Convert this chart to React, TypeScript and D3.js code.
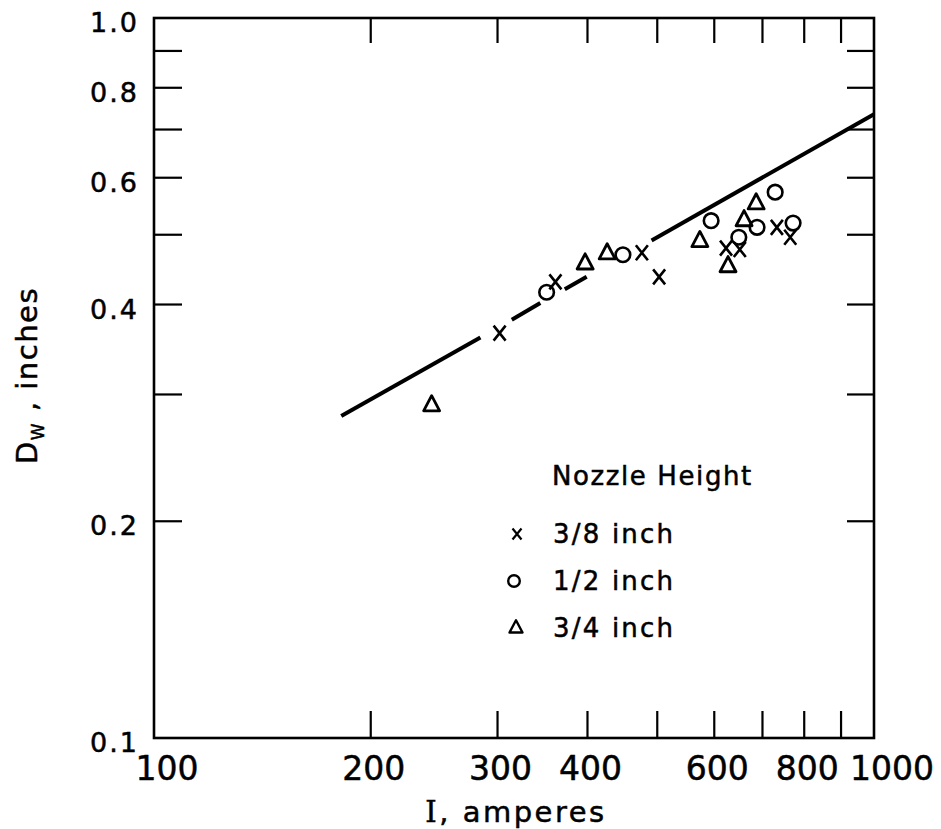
import React from "react";
import * as d3 from "d3";

// ---- data ----
const xTickValues = [200, 300, 400, 500, 600, 700, 800, 900];
const xLabelValues = [100, 200, 300, 400, 600, 800, 1000];
const yTickValues = [0.2, 0.3, 0.4, 0.5, 0.6, 0.7, 0.8, 0.9];
const yLabelValues = [0.1, 0.2, 0.4, 0.6, 0.8, 1.0];

// Nozzle height 3/8 inch (x)
const series38: [number, number][] = [
  [302, 0.365], [361, 0.43], [476, 0.472], [503, 0.437],
  [623, 0.479], [651, 0.477], [733, 0.512], [765, 0.496],
];
// Nozzle height 1/2 inch (o)
const series12: [number, number][] = [
  [351, 0.416], [448, 0.469], [594, 0.523], [649, 0.496],
  [688, 0.512], [729, 0.573], [772, 0.519],
];
// Nozzle height 3/4 inch (triangle)
const series34: [number, number][] = [
  [243, 0.291], [397, 0.458], [426, 0.473], [573, 0.492],
  [627, 0.454], [660, 0.526], [686, 0.555],
];

// fitted line, drawn broken where the markers sit
const lineSegments: [number, number][][] = [
  [[182, 0.28], [284, 0.36]],
  [[314, 0.381], [344, 0.402]],
  [[372, 0.42], [399, 0.437]],
  [[491, 0.491], [1000, 0.735]],
];

const legendTitle = "Nozzle Height";
const legendItems = [
  { kind: "x", label: "3/8 inch" },
  { kind: "o", label: "1/2 inch" },
  { kind: "t", label: "3/4 inch" },
];

const W = 941;
const H = 829;
const L = 154, R = 874, T = 18, B = 738;
const FONT = "'DejaVu Sans', sans-serif";

const x = d3.scaleLog().domain([100, 1000]).range([L, R]);
const y = d3.scaleLog().domain([0.1, 1.0]).range([B, T]);

function Cross({ cx, cy, w = 6, h = 7.5, sw = 2.6 }: any) {
  return (
    <path
      d={`M${cx - w},${cy - h}L${cx + w},${cy + h}M${cx + w},${cy - h}L${cx - w},${cy + h}`}
      stroke="#000" strokeWidth={sw} fill="none"
    />
  );
}
function Circ({ cx, cy, r = 7.3, sw = 2.6 }: any) {
  return <circle cx={cx} cy={cy} r={r} stroke="#000" strokeWidth={sw} fill="none" />;
}
function Tri({ cx, cy, s = 8, sw = 2.8 }: any) {
  const hgt = s * 1.9;
  return (
    <path
      d={`M${cx},${cy - hgt * 0.55}L${cx + s},${cy + hgt * 0.45}L${cx - s},${cy + hgt * 0.45}Z`}
      stroke="#000" strokeWidth={sw} fill="none" strokeLinejoin="round"
    />
  );
}

export default function App() {
  const line = d3
    .line<[number, number]>()
    .x((d) => x(d[0]))
    .y((d) => y(d[1]));

  const fmtY = (v: number) => v.toFixed(1);
  const textStroke = { stroke: "#000", strokeWidth: 0.5 };

  return (
    <svg
      width={W}
      height={H}
      viewBox={`0 0 ${W} ${H}`}
      style={{ position: "absolute", left: 0, top: 0, background: "#fff" }}
    >
      <rect x={0} y={0} width={W} height={H} fill="#fff" />
      {/* frame */}
      <rect x={L} y={T} width={R - L} height={B - T} fill="none" stroke="#000" strokeWidth={2.6} />

      {/* x ticks bottom and top */}
      {xTickValues.map((v) => (
        <g key={"xt" + v}>
          <line x1={x(v)} x2={x(v)} y1={B} y2={B - 27} stroke="#000" strokeWidth={2.2} />
          <line x1={x(v)} x2={x(v)} y1={T} y2={T + 25} stroke="#000" strokeWidth={2.2} />
        </g>
      ))}
      {/* y ticks left and right */}
      {yTickValues.map((v) => (
        <g key={"yt" + v}>
          <line x1={L} x2={L + 28} y1={y(v)} y2={y(v)} stroke="#000" strokeWidth={2.2} />
          <line x1={R} x2={R - 27} y1={y(v)} y2={y(v)} stroke="#000" strokeWidth={2.2} />
        </g>
      ))}

      {/* x labels */}
      {xLabelValues.map((v) => {
        const dx = v === 100 ? 13 : v === 1000 ? 18 : 3;
        return (
          <text
            key={"xl" + v}
            x={x(v) + dx}
            y={780}
            textAnchor="middle"
            fontFamily={FONT}
            fontSize={33}
            fill="#000"
            {...textStroke}
          >
            {String(v)}
          </text>
        );
      })}
      {/* y labels */}
      {yLabelValues.map((v) => (
        <text
          key={"yl" + v}
          x={139}
          y={y(v) + 14}
          textAnchor="end"
          fontFamily={FONT}
          fontSize={27}
          letterSpacing={2}
          fill="#000"
          {...textStroke}
        >
          {fmtY(v)}
        </text>
      ))}

      {/* axis titles */}
      <text x={516} y={822} textAnchor="middle" fontFamily={FONT} fontSize={29} letterSpacing={2.5} fill="#000" {...textStroke}>
        <tspan fontFamily="'DejaVu Serif', serif">I</tspan>, amperes
      </text>
      <text
        transform="translate(37,464) rotate(-90)"
        x={0}
        y={0}
        fontFamily={FONT}
        fontSize={29}
        letterSpacing={1.5}
        fill="#000"
        {...textStroke}
      >
        D<tspan fontSize={17} dy={7}>W</tspan>
        <tspan dy={-7}> , inches</tspan>
      </text>

      {/* fitted line */}
      {lineSegments.map((seg, i) => (
        <path key={"seg" + i} d={line(seg) || ""} stroke="#000" strokeWidth={4} fill="none" strokeLinecap="butt" />
      ))}

      {/* markers */}
      {series38.map((d, i) => (
        <Cross key={"c" + i} cx={x(d[0])} cy={y(d[1])} />
      ))}
      {series12.map((d, i) => (
        <Circ key={"o" + i} cx={x(d[0])} cy={y(d[1])} />
      ))}
      {series34.map((d, i) => (
        <Tri key={"t" + i} cx={x(d[0])} cy={y(d[1])} />
      ))}

      {/* legend */}
      <text x={552} y={485} fontFamily={FONT} fontSize={26} letterSpacing={1.6} fill="#000" {...textStroke}>
        {legendTitle}
      </text>
      {legendItems.map((it, i) => {
        const cy = 534 + i * 47;
        return (
          <g key={"lg" + i}>
            {it.kind === "x" && <Cross cx={517} cy={cy} w={4.5} h={5.5} sw={2.2} />}
            {it.kind === "o" && <Circ cx={514} cy={cy} r={5.8} sw={2.4} />}
            {it.kind === "t" && <Tri cx={516} cy={cy - 1} s={6.5} sw={2.4} />}
            <text x={553} y={cy + 9} fontFamily={FONT} fontSize={26} letterSpacing={2.2} fill="#000" {...textStroke}>
              {it.label}
            </text>
          </g>
        );
      })}
    </svg>
  );
}
